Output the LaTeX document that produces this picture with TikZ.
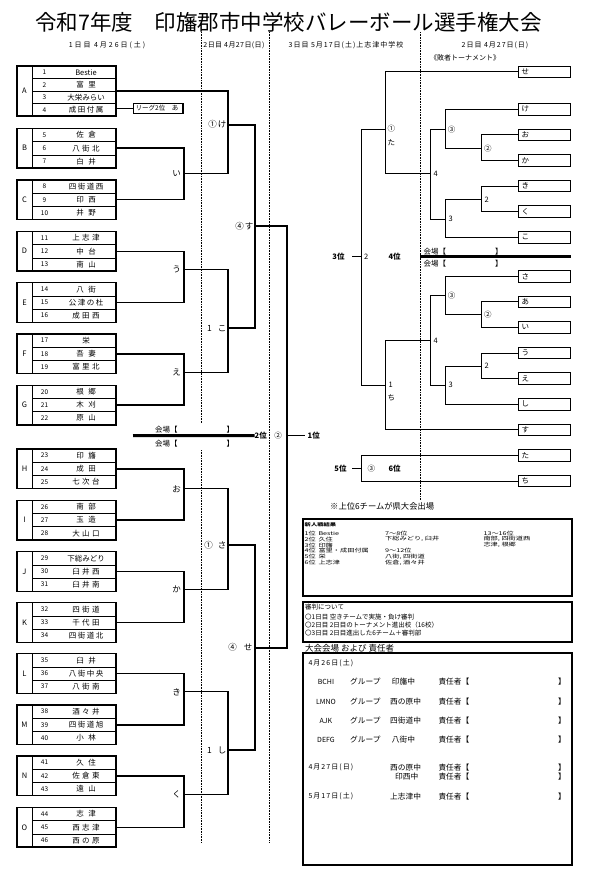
\documentclass[tikz,border=0pt]{standalone}
\usepackage{fontspec}
\setmainfont{Noto Sans CJK JP}
\newcommand{\gapA}{\kern4.5pt}
\newcommand{\gapB}{\kern2.5pt}
\newcommand{\gapC}{\kern1.5pt}
\newcommand{\sqz}[1]{\scalebox{1}[0.72]{#1}}
\tikzset{
  gbox/.style={draw, line width=1.4pt, minimum width=99pt, inner sep=0pt, outer sep=0pt, anchor=north west},
  thinln/.style={line width=0.5pt},
  gl/.style={inner sep=0pt, font=\fontsize{7.5}{8}\selectfont},
  num/.style={inner sep=0pt, font=\fontsize{6.5}{7}\selectfont},
  nm/.style={inner sep=0pt, font=\fontsize{7.5}{8}\selectfont},
  brk/.style={line width=1.5pt},
  rln/.style={line width=0.85pt},
  rbox/.style={draw, line width=0.8pt, minimum width=52.5pt, minimum height=11.5pt, inner sep=0pt, outer sep=0pt},
  rtx/.style={inner sep=0pt, font=\fontsize{7.5}{8}\selectfont},
  mlab/.style={inner sep=0pt, font=\fontsize{8.5}{9}\selectfont},
  rlab/.style={inner sep=0pt, font=\fontsize{7.5}{8}\selectfont},
  rank/.style={inner sep=0pt, font=\bfseries\fontsize{7.5}{8}\selectfont},
  hall/.style={inner sep=0pt, font=\fontsize{7.5}{8}\selectfont},
  dotln/.style={line width=0.6pt, dash pattern=on 0.6pt off 1pt},
  rs/.style={inner sep=0pt, anchor=west, font=\fontsize{7.2}{7}\selectfont},
  ref/.style={inner sep=0pt, anchor=west, font=\fontsize{6.5}{7}\selectfont},
  vt/.style={inner sep=0pt, anchor=west, font=\fontsize{7.7}{8}\selectfont},
  vd/.style={inner sep=0pt, anchor=west, font=\fontsize{7}{8}\selectfont\addfontfeatures{LetterSpace=15}},
  vc/.style={inner sep=0pt, font=\fontsize{7}{8}\selectfont},
  bigbox/.style={draw, line width=2pt, anchor=north west, minimum width=268.4pt, inner sep=0pt, outer sep=0pt}
}
\newcommand{\teamgrp}[9]{%
  \node[gbox, minimum height=39.5pt] (g#1) at (17,#3) {};
  \draw[thinln] (32,#3) -- (32,{#3+39.5});
  \draw[thinln] (32,{#3+13.17}) -- (116,{#3+13.17});
  \draw[thinln] (32,{#3+26.33}) -- (116,{#3+26.33});
  \node[gl] (l#1) at (24.5,{#3+19.75}) {#2};
  \node[num] (n#1a) at (44.5,{#3+6.58}) {#4};
  \node[nm] (t#1a) at (86,{#3+6.58}) {#5};
  \node[num] (n#1b) at (44.5,{#3+19.75}) {#6};
  \node[nm] (t#1b) at (86,{#3+19.75}) {#7};
  \node[num] (n#1c) at (44.5,{#3+32.92}) {#8};
  \node[nm] (t#1c) at (86,{#3+32.92}) {#9};
}
\newcommand{\losebox}[3]{%
  \node[rbox] (b#1) at (544.55,#2) {};
  \node[rtx, anchor=west] (t#1) at ([xshift=3pt]b#1.west) {#3};
}
\begin{document}
\begin{tikzpicture}[x=1pt,y=-1pt]
\useasboundingbox (0,0) rectangle (599,877);
\fill[white] (0,0) rectangle (599,877);

% title and headers
\node[inner sep=0pt, font=\fontsize{21.5}{24}\selectfont] (title) at (288.5,22) {令和7年度　印旛郡市中学校バレーボール選手権大会};
\node[inner sep=0pt, font=\fontsize{7}{8}\selectfont\addfontfeatures{LetterSpace=28}] (h1) at (107,45) {1日目 4月26日(土)};
\node[inner sep=0pt, font=\fontsize{7}{8}\selectfont\addfontfeatures{LetterSpace=6}] (h2) at (234,45) {2日目 4月27日(日)};
\node[inner sep=0pt, font=\fontsize{7}{8}\selectfont\addfontfeatures{LetterSpace=14}] (h3) at (346,45) {3日目 5月17日(土)上志津中学校};
\node[inner sep=0pt, font=\fontsize{7}{8}\selectfont\addfontfeatures{LetterSpace=14}] (h4) at (495,45) {2日目 4月27日(日)};

% dotted day separators
\draw[dotln] (201,32) -- (201,423);
\draw[dotln] (201,450) -- (201,843);
\draw[dotln] (269,32) -- (269,843);
\draw[dotln] (420,32) -- (420,500);

% group A (4 rows)
\node[gbox, minimum height=50pt] (gA) at (17,66) {};
\draw[thinln] (32,66) -- (32,116);
\draw[thinln] (32,78.5) -- (116,78.5);
\draw[thinln] (32,91) -- (116,91);
\draw[thinln] (32,103.5) -- (116,103.5);
\node[gl] (lA) at (24.5,91) {A};
\node[num] (nAa) at (44.5,72.25) {1};
\node[nm] (tAa) at (86,72.25) {Bestie};
\node[num] (nAb) at (44.5,84.75) {2};
\node[nm] (tAb) at (86,84.75) {富\gapA 里};
\node[num] (nAc) at (44.5,97.25) {3};
\node[nm] (tAc) at (86,97.25) {大栄みらい};
\node[num] (nAd) at (44.5,109.75) {4};
\node[nm] (tAd) at (86,109.75) {成\gapC 田\gapC 付\gapC 属};
\coordinate (a4) at (116,108.5);
\node[draw, line width=1.2pt, minimum width=49.7pt, minimum height=10.6pt, inner sep=0pt, outer sep=0pt] (lg) at (158.15,108.5) {};
\node[inner sep=0pt, anchor=west, font=\fontsize{6.5}{7}\selectfont] (lgt) at (135.5,108.5) {リーグ2位　あ};
\draw[brk] (a4) -- (lg.west);

\teamgrp{B}{B}{128.5}{5}{佐\gapA 倉}{6}{八\gapB 街\gapB 北}{7}{白\gapA 井}
\teamgrp{C}{C}{180}{8}{四\gapC 街\gapC 道\gapC 西}{9}{印\gapA 西}{10}{井\gapA 野}
\teamgrp{D}{D}{231.5}{11}{上\gapB 志\gapB 津}{12}{中\gapA 台}{13}{南\gapA 山}
\teamgrp{E}{E}{282.7}{14}{八\gapA 街}{15}{公\gapC 津\gapC の\gapC 杜}{16}{成\gapB 田\gapB 西}
\teamgrp{F}{F}{334}{17}{栄}{18}{吾\gapA 妻}{19}{富\gapB 里\gapB 北}
\teamgrp{G}{G}{385.3}{20}{根\gapA 郷}{21}{木\gapA 刈}{22}{原\gapA 山}
\teamgrp{H}{H}{449}{23}{印\gapA 旛}{24}{成\gapA 田}{25}{七\gapB 次\gapB 台}
\teamgrp{I}{I}{500.3}{26}{南\gapA 部}{27}{玉\gapA 造}{28}{大\gapB 山\gapB 口}
\teamgrp{J}{J}{551.7}{29}{下総みどり}{30}{臼\gapB 井\gapB 西}{31}{臼\gapB 井\gapB 南}
\teamgrp{K}{K}{602.7}{32}{四\gapB 街\gapB 道}{33}{千\gapB 代\gapB 田}{34}{四\gapC 街\gapC 道\gapC 北}
\teamgrp{L}{L}{653.7}{35}{臼\gapA 井}{36}{八\gapC 街\gapC 中\gapC 央}{37}{八\gapB 街\gapB 南}
\teamgrp{M}{M}{705}{38}{酒\gapB 々\gapB 井}{39}{四\gapC 街\gapC 道\gapC 旭}{40}{小\gapA 林}
\teamgrp{N}{N}{756}{41}{久\gapA 住}{42}{佐\gapB 倉\gapB 東}{43}{遠\gapA 山}
\teamgrp{O}{O}{807.5}{44}{志\gapA 津}{45}{西\gapB 志\gapB 津}{46}{西\gapB の\gapB 原}

% main bracket junctions
\coordinate (mI) at (184,173.3);
\coordinate (mU) at (184,269.3);
\coordinate (mE) at (184,372.7);
\coordinate (mO) at (184,488.7);
\coordinate (mKa) at (184,589.3);
\coordinate (mKi) at (184,691.7);
\coordinate (mKu) at (184,794.3);
\coordinate (jKe) at (228,125);
\coordinate (jKo) at (228,328);
\coordinate (jSa) at (228,545);
\coordinate (jShi) at (228,750);
\coordinate (jSu) at (255,226);
\coordinate (jSe) at (255,647.7);
\coordinate (jFin) at (287,435);
\coordinate (eFin) at (305,435);

\draw[brk] (gB.east) -| (mI) |- (gC.east);
\draw[brk] (gD.east) -| (mU) |- (gE.east);
\draw[brk] (gF.east) -| (mE) |- (gG.east);
\draw[brk] (gH.east) -| (mO) |- (gI.east);
\draw[brk] (gJ.east) -| (mKa) |- (gK.east);
\draw[brk] (gL.east) -| (mKi) |- (gM.east);
\draw[brk] (gN.east) -| (mKu) |- (gO.east);
\draw[brk] (gA.east) -| (jKe) |- (mI);
\draw[brk] (mU) -| (jKo) |- (mE);
\draw[brk] (mO) -| (jSa) |- (mKa);
\draw[brk] (mKi) -| (jShi) |- (mKu);
\draw[brk] (jKe) -| (jSu) |- (jKo);
\draw[brk] (jSa) -| (jSe) |- (jShi);
\draw[line width=1.7pt] (jSu) -| (jFin) |- (jSe);
\draw[rln] (jFin) -- (eFin);

% match labels (left)
\node[mlab, anchor=east] (LI) at (181,174) {い};
\node[mlab, anchor=east] (LU) at (181,269.5) {う};
\node[mlab, anchor=east] (LE) at (181,372.7) {え};
\node[mlab, anchor=east] (LO) at (181,489) {お};
\node[mlab, anchor=east] (LKa) at (181,589.5) {か};
\node[mlab, anchor=east] (LKi) at (181,692) {き};
\node[mlab, anchor=east] (LKu) at (181,794.5) {く};
\node[mlab, anchor=east] (LKe) at (226.5,124.5) {①\kern1pt け};
\node[mlab, anchor=east] (LKo) at (226.5,328.3) {1\kern6pt こ};
\node[mlab, anchor=east] (LSa) at (226.5,545) {①\kern5pt さ};
\node[mlab, anchor=east] (LShi) at (226.5,750) {1\kern6pt し};
\node[mlab, anchor=east] (LSu) at (253.5,226.3) {④\kern1pt す};
\node[mlab, anchor=east] (LSe) at (252.5,647.7) {④\kern7pt せ};

% left hall separator
\coordinate (tl) at (133,435.7);
\node[rank, anchor=west] (p2) at (254.5,435.5) {2位};
\draw[line width=3pt] (tl) -- (p2.west);
\node[rlab] (c2) at (278,435.3) {②};
\node[rank, anchor=west] (p1) at (307.5,435.8) {1位};
\node[hall, anchor=west] (hL1) at (155,430) {会場【};
\node[hall, anchor=west] (hL1e) at (226.5,430) {】};
\node[hall, anchor=west] (hL2) at (155,443.5) {会場【};
\node[hall, anchor=west] (hL2e) at (226.5,443.5) {】};

% loser tournament
\node[inner sep=0pt, font=\fontsize{7}{8}\selectfont] (lt) at (465,58.3) {《敗者トーナメント》};
\losebox{Se}{71.7}{せ}
\losebox{Ke}{109.2}{け}
\losebox{O}{134.8}{お}
\losebox{Ka}{160.4}{か}
\losebox{Ki}{186}{き}
\losebox{Ku}{211.6}{く}
\losebox{Ko}{237.2}{こ}
\losebox{Sa}{276.2}{さ}
\losebox{A}{301.8}{あ}
\losebox{I}{327.4}{い}
\losebox{U}{353}{う}
\losebox{E}{378.6}{え}
\losebox{Shi}{404.2}{し}
\losebox{Su}{429.8}{す}
\losebox{Ta}{455.4}{た}
\losebox{Chi}{481}{ち}

\coordinate (r2a) at (481.7,148);
\coordinate (r3a) at (445.7,129.3);
\coordinate (r2b) at (481.7,199.3);
\coordinate (r3b) at (445.7,219);
\coordinate (r4a) at (430.7,173.3);
\coordinate (r1a) at (385.7,129.3);
\coordinate (r2c) at (481.7,314.3);
\coordinate (r3c) at (445.7,295.7);
\coordinate (r2d) at (481.7,366);
\coordinate (r3d) at (445.7,385);
\coordinate (r4b) at (430.7,340.3);
\coordinate (r1b) at (385.7,385);
\coordinate (r2e) at (361.7,256.7);
\coordinate (r3e) at (361.7,468.2);
\coordinate (e3) at (351.7,256.7);
\coordinate (e5) at (351.7,468.2);

\draw[rln] (bO.west) -| (r2a) |- (bKa.west);
\draw[rln] (bKe.west) -| (r3a) |- (r2a);
\draw[rln] (bKi.west) -| (r2b) |- (bKu.west);
\draw[rln] (r2b) -| (r3b) |- (bKo.west);
\draw[rln] (r3a) -| (r4a) |- (r3b);
\draw[rln] (bSe.west) -| (r1a) |- (r4a);
\draw[rln] (bA.west) -| (r2c) |- (bI.west);
\draw[rln] (bSa.west) -| (r3c) |- (r2c);
\draw[rln] (bU.west) -| (r2d) |- (bE.west);
\draw[rln] (r2d) -| (r3d) |- (bShi.west);
\draw[rln] (r3c) -| (r4b) |- (r3d);
\draw[rln] (r4b) -| (r1b) |- (bSu.west);
\draw[rln] (r1a) -| (r2e) |- (r1b);
\draw[rln] (r2e) -- (e3);
\draw[rln] (bTa.west) -| (r3e) |- (bChi.west);
\draw[rln] (r3e) -- (e5);

\node[rlab, anchor=west] (q2a) at (484,148.5) {②};
\node[rlab, anchor=west] (q2b) at (484.5,200) {2};
\node[rlab, anchor=west] (q3a) at (447.7,129.5) {③};
\node[rlab, anchor=west] (q3b) at (448.5,219) {3};
\node[rlab, anchor=west] (q4a) at (433.5,174) {4};
\node[rlab, anchor=west] (q1a) at (387.5,129) {①};
\node[rlab, anchor=west] (q1at) at (387.5,142.7) {た};
\node[rlab, anchor=west] (q3c) at (447.7,295.5) {③};
\node[rlab, anchor=west] (q2c) at (484,314.5) {②};
\node[rlab, anchor=west] (q2d) at (484.5,366) {2};
\node[rlab, anchor=west] (q3d) at (448.5,385.3) {3};
\node[rlab, anchor=west] (q4b) at (433.5,340.8) {4};
\node[rlab, anchor=west] (q1b) at (388.3,385) {1};
\node[rlab, anchor=west] (q1bt) at (387.5,397.7) {ち};
\node[rank, anchor=east] (p3) at (e3) [xshift=-7pt] {3位};
\node[rlab, anchor=west] (q2e) at (364,256.7) {2};
\node[rank, anchor=west] (p4) at (388.3,256.7) {4位};
\node[rank, anchor=east] (p5) at (e5) [xshift=-5pt] {5位};
\node[rlab, anchor=west] (q3e) at (367.3,468.5) {③};
\node[rank, anchor=west] (p6) at (388.3,468.5) {6位};

% right hall separator
\coordinate (tr1) at (420,256.7);
\coordinate (tr2) at (571,256.7);
\draw[line width=3pt] (tr1) -- (tr2);
\node[hall, anchor=west] (hR1) at (423.3,251.5) {会場【};
\node[hall, anchor=west] (hR1e) at (495,251.5) {】};
\node[hall, anchor=west] (hR2) at (423.3,264) {会場【};
\node[hall, anchor=west] (hR2e) at (495,264) {】};

% note
\node[inner sep=0pt, anchor=west, font=\fontsize{8.3}{9}\selectfont] (note) at (330,506.7) {※上位6チームが県大会出場};

% results box
\node[bigbox, minimum height=76.7pt] (res) at (303.3,519.3) {};
\node[rs, font=\bfseries\fontsize{6.3}{7}\selectfont] (rsT) at (304.5,524.3) {\sqz{新人戦結果}};
\node[rs] (r11) at (304.5,533.3) {\sqz{1位}};
\node[rs] (r12) at (318.3,533.3) {\sqz{Bestie}};
\node[rs] (r13) at (385,533.3) {\sqz{7〜8位}};
\node[rs] (r14) at (483.3,533.3) {\sqz{13〜16位}};
\node[rs] (r21) at (304.5,539.2) {\sqz{2位}};
\node[rs] (r22) at (318.3,539.2) {\sqz{久住}};
\node[rs] (r23) at (385,539.2) {\sqz{下総みどり, 臼井}};
\node[rs] (r24) at (483.3,539.2) {\sqz{南部, 四街道西}};
\node[rs] (r31) at (304.5,545.1) {\sqz{3位}};
\node[rs] (r32) at (318.3,545.1) {\sqz{印旛}};
\node[rs] (r34) at (483.3,545.1) {\sqz{志津, 根郷}};
\node[rs] (r41) at (304.5,551) {\sqz{4位}};
\node[rs] (r42) at (318.3,551) {\sqz{富里・成田付属}};
\node[rs] (r43) at (385,551) {\sqz{9〜12位}};
\node[rs] (r51) at (304.5,556.9) {\sqz{5位}};
\node[rs] (r52) at (318.3,556.9) {\sqz{栄}};
\node[rs] (r53) at (385,556.9) {\sqz{八街, 四街道}};
\node[rs] (r61) at (304.5,562.8) {\sqz{6位}};
\node[rs] (r62) at (318.3,562.8) {\sqz{上志津}};
\node[rs] (r63) at (385,562.8) {\sqz{佐倉, 酒々井}};

% referee box
\node[bigbox, minimum height=40pt] (refb) at (303.3,601.7) {};
\node[ref] (f0) at (305,607) {審判について};
\node[ref] (f1) at (305,616.7) {〇1日目 空きチームで実施・負け審判};
\node[ref] (f2) at (305,625) {〇2日目 2日目のトーナメント進出校（16校）};
\node[ref] (f3) at (305,633.3) {〇3日目 2日目進出した6チーム＋審判部};

% venue box
\node[inner sep=0pt, anchor=west, font=\fontsize{8.5}{9}\selectfont] (vh) at (305,648.3) {大会会場 および 責任者};
\node[bigbox, minimum height=211.7pt] (ven) at (303.3,653.3) {};
\node[vd] (d1) at (308.3,663.3) {4月26日(土)};
\node[vc] (c1) at (326,681.7) {BCHI};
\node[vt] (g1) at (350,681.7) {グループ};
\node[vt] (s1) at (391.7,681.7) {印旛中};
\node[vt] (k1) at (438.3,681.7) {責任者【};
\node[vt] (e1) at (558,681.7) {】};
\node[vc] (c2v) at (326,701.7) {LMNO};
\node[vt] (g2) at (350,701.7) {グループ};
\node[vt] (s2) at (390,701.7) {西の原中};
\node[vt] (k2) at (438.3,701.7) {責任者【};
\node[vt] (e2) at (558,701.7) {】};
\node[vc] (c3) at (326,721) {AJK};
\node[vt] (g3) at (350,721) {グループ};
\node[vt] (s3) at (390,721) {四街道中};
\node[vt] (k3) at (438.3,721) {責任者【};
\node[vt] (e3v) at (558,721) {】};
\node[vc] (c4) at (326,740) {DEFG};
\node[vt] (g4) at (350,740) {グループ};
\node[vt] (s4) at (391.7,740) {八街中};
\node[vt] (k4) at (438.3,740) {責任者【};
\node[vt] (e4) at (558,740) {】};
\node[vd] (d2) at (308.3,767.3) {4月27日(日)};
\node[vt] (s5) at (390,767.3) {西の原中};
\node[vt] (k5) at (438.3,767.3) {責任者【};
\node[vt] (e5v) at (558,767.3) {】};
\node[vt] (s6) at (395,776.7) {印西中};
\node[vt] (k6) at (438.3,776.7) {責任者【};
\node[vt] (e6) at (558,776.7) {】};
\node[vd] (d3) at (308.3,796.7) {5月17日(土)};
\node[vt] (s7) at (390,796.7) {上志津中};
\node[vt] (k7) at (438.3,796.7) {責任者【};
\node[vt] (e7) at (558,796.7) {】};
\end{tikzpicture}
\end{document}
